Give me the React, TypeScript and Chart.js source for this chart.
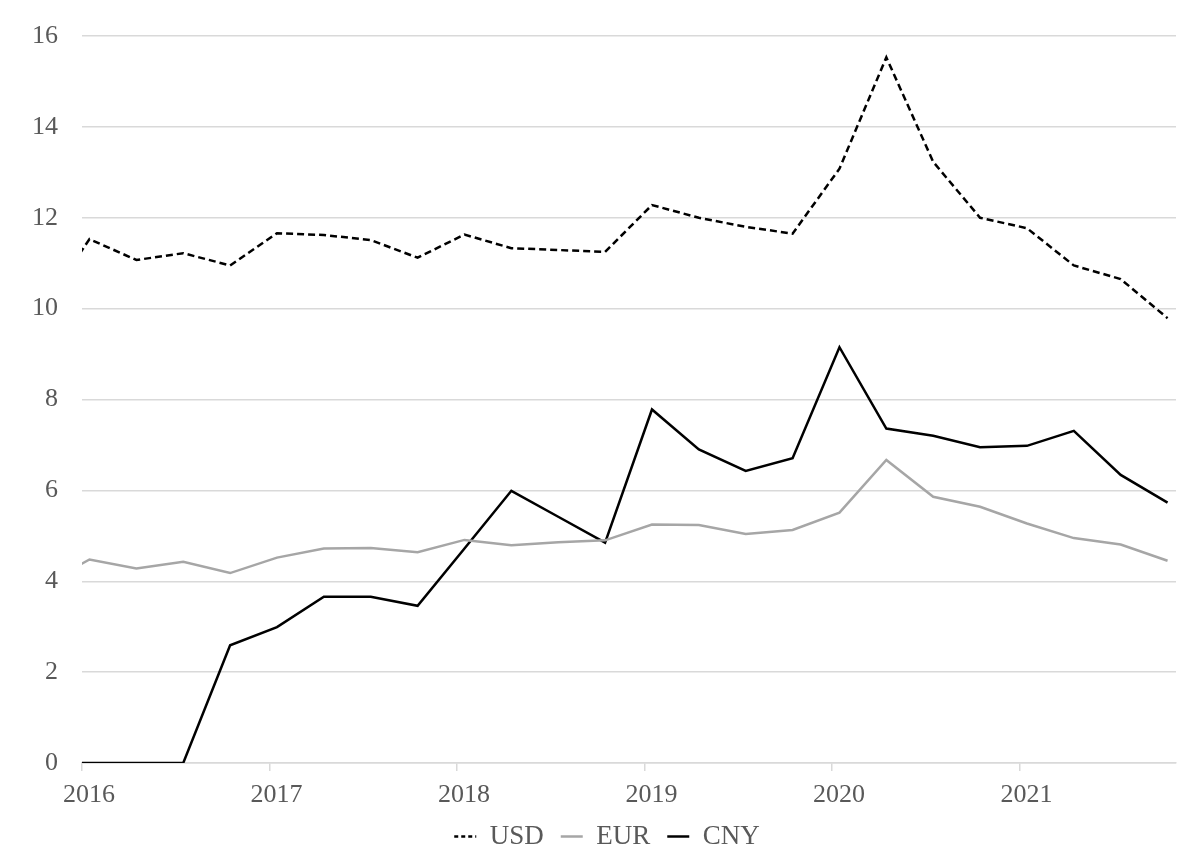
import React, { useEffect, useRef } from "react";
import { Chart, registerables } from "chart.js";

Chart.register(...registerables);

// Quarterly observations (the first one lies just before the visible axis range)
const quarters = [
  "2015 Q4",
  "2016 Q1", "2016 Q2", "2016 Q3", "2016 Q4",
  "2017 Q1", "2017 Q2", "2017 Q3", "2017 Q4",
  "2018 Q1", "2018 Q2", "2018 Q3", "2018 Q4",
  "2019 Q1", "2019 Q2", "2019 Q3", "2019 Q4",
  "2020 Q1", "2020 Q2", "2020 Q3", "2020 Q4",
  "2021 Q1", "2021 Q2", "2021 Q3", "2021 Q4",
];

const usd = [
  10.0,
  11.53, 11.07, 11.22, 10.95,
  11.66, 11.62, 11.51, 11.12,
  11.63, 11.33, 11.29, 11.25,
  12.28, 12.0, 11.8, 11.65,
  13.08, 15.53, 13.23, 12.0,
  11.77, 10.95, 10.65, 9.79,
];

const eur = [
  3.9,
  4.48, 4.28, 4.43, 4.18,
  4.52, 4.72, 4.73, 4.64,
  4.91, 4.79, 4.86, 4.9,
  5.25, 5.24, 5.04, 5.13,
  5.51, 6.67, 5.86, 5.64,
  5.27, 4.95, 4.81, 4.45,
];

const cny = [
  0,
  0, 0, 0, 2.59,
  2.99, 3.66, 3.66, 3.46,
  4.72, 5.99, 5.42, 4.85,
  7.78, 6.9, 6.43, 6.71,
  9.15, 7.36, 7.2, 6.95,
  6.98, 7.31, 6.34, 5.73,
];

const yearTicks = [2016, 2017, 2018, 2019, 2020, 2021];
const yTicks = [0, 2, 4, 6, 8, 10, 12, 14, 16];

// year labels sit slightly right of the year tick marks (as in the source)
const LABEL_SHIFT = 0.037;

const quarterToX = (q: string) => {
  const [y, qq] = q.split(" Q");
  return Number(y) + (Number(qq) - 1) * 0.25 + 0.04;
};

const toPoints = (vals: number[]) =>
  vals.map((v, i) => ({ x: quarterToX(quarters[i]), y: v }));

const FONT = "'Liberation Serif', 'Times New Roman', serif";
const TEXT = "#595959";
const GRID = "#d9d9d9";
const CLEAR = "rgba(0,0,0,0)";

const isMark = (v: number) => Math.abs(v - Math.round(v)) < 1e-6;

// nudges the legend block to the right, as in the source image
const legendShift = {
  id: "legendShift",
  afterLayout(chart: any) {
    const l = chart.legend;
    if (l) {
      l.left += 19;
      l.right += 19;
    }
  },
};

export default function App() {
  const ref = useRef<HTMLCanvasElement | null>(null);

  useEffect(() => {
    if (!ref.current) return;
    const chart = new Chart(ref.current, {
      type: "line",
      plugins: [legendShift],
      data: {
        datasets: [
          {
            label: "USD",
            data: toPoints(usd),
            borderColor: "#000000",
            borderWidth: 2.5,
            borderDash: [7, 4],
            pointRadius: 0,
            pointStyle: "line",
            tension: 0,
            clip: 0,
          },
          {
            label: "EUR",
            data: toPoints(eur),
            borderColor: "#a6a6a6",
            borderWidth: 2.5,
            pointRadius: 0,
            pointStyle: "line",
            tension: 0,
            clip: 0,
          },
          {
            label: "CNY",
            data: toPoints(cny),
            borderColor: "#000000",
            borderWidth: 2.5,
            pointRadius: 0,
            pointStyle: "line",
            tension: 0,
            clip: 0,
          },
        ],
      },
      options: {
        animation: false,
        responsive: true,
        maintainAspectRatio: false,
        layout: { padding: { top: 36, right: 24, bottom: 3, left: 0 } },
        plugins: {
          tooltip: { enabled: false },
          legend: {
            position: "bottom",
            labels: {
              usePointStyle: true,
              pointStyleWidth: 22,
              padding: 17,
              color: TEXT,
              font: { family: FONT, size: 27 },
              generateLabels: (c: any) => {
                const items = Chart.defaults.plugins.legend.labels.generateLabels(c);
                items.forEach((it: any) => {
                  it.pointStyle = "line";
                  it.lineWidth = 2.5;
                  it.lineDash = it.datasetIndex === 0 ? [4, 3] : [];
                });
                return items;
              },
            },
          },
        },
        scales: {
          x: {
            type: "linear",
            min: 2016,
            max: 2021.835,
            afterBuildTicks: (scale: any) => {
              const t: { value: number }[] = [];
              yearTicks.forEach((v) => {
                t.push({ value: v });
                t.push({ value: v + LABEL_SHIFT });
              });
              scale.ticks = t;
            },
            afterFit: (scale: any) => {
              scale.height = 43;
            },
            ticks: {
              color: TEXT,
              font: { family: FONT, size: 26 },
              padding: 9,
              maxRotation: 0,
              autoSkip: false,
              callback: (v: any) => (isMark(Number(v)) ? "" : String(Math.floor(Number(v)))),
            },
            grid: {
              drawOnChartArea: false,
              drawTicks: true,
              tickLength: 8,
              color: GRID,
              tickColor: (ctx: any) => (ctx.tick && isMark(ctx.tick.value) ? GRID : CLEAR),
              lineWidth: 1.5,
            },
            border: { display: true, color: GRID, width: 1.5 },
          },
          y: {
            min: 0,
            max: 16,
            afterBuildTicks: (scale: any) => {
              scale.ticks = yTicks.map((v) => ({ value: v }));
            },
            afterFit: (scale: any) => {
              scale.width = 82;
            },
            ticks: {
              color: TEXT,
              font: { family: FONT, size: 26 },
              padding: 4,
              callback: (v: any) => String(v),
            },
            grid: {
              color: GRID,
              lineWidth: 1.5,
              drawTicks: true,
              tickLength: 20,
              tickColor: CLEAR,
            },
            border: { display: false },
          },
        },
      },
    });
    return () => chart.destroy();
  }, []);

  return (
    <div style={{ position: "absolute", left: 0, top: 0, width: 1200, height: 863, background: "#fff" }}>
      <canvas ref={ref} />
    </div>
  );
}
